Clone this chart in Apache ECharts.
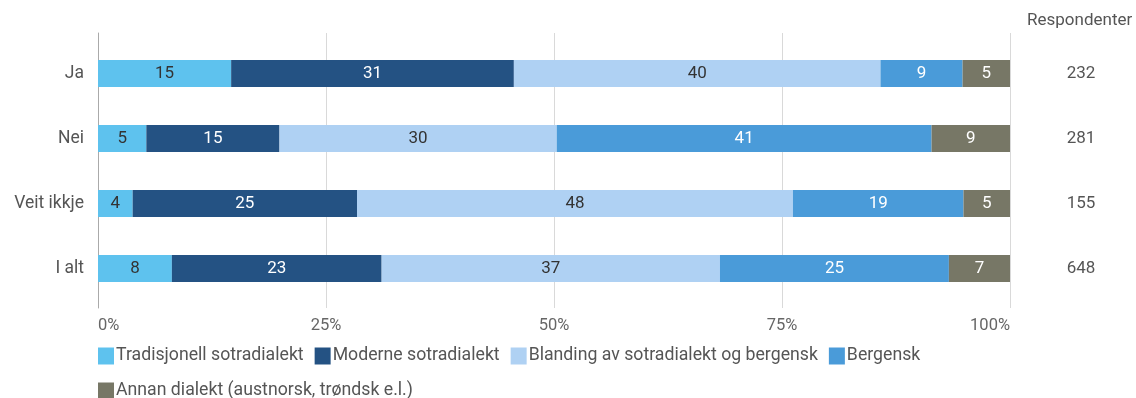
<!DOCTYPE html>
<html>
<head>
<meta charset="utf-8">
<script src="https://cdn.jsdelivr.net/npm/echarts@6/dist/echarts.min.js"></script>
<style>
  html, body { margin: 0; padding: 0; background: #fff; }
  #chart { width: 1136px; height: 398px; }
</style>
</head>
<body>
<div id="chart"></div>
<script>
// categories and respondent counts
const categories = ['Ja', 'Nei', 'Veit ikkje', 'I alt'];
const respondents = [232, 281, 155, 648];
const seriesNames = [
    'Tradisjonell sotradialekt',
    'Moderne sotradialekt',
    'Blanding av sotradialekt og bergensk',
    'Bergensk',
    'Annan dialekt (austnorsk, trøndsk e.l.)'
];

// percentages per category (Ja, Nei, Veit ikkje, I alt)
const tradisjonell = [14.6, 5.3, 3.8, 8.1];
const moderne = [31.0, 14.6, 24.6, 23.0];
const blanding = [40.2, 30.4, 47.8, 37.1];
const bergensk = [9.0, 41.1, 18.7, 25.1];
const annan = [5.2, 8.6, 5.1, 6.7];

const xTicks = [0, 25, 50, 75, 100];

const colors = ['#5ec2ee', '#245283', '#afd1f3', '#4a9bd9', '#777766'];
const labelColors = ['#333', '#fff', '#333', '#fff', '#fff'];
const values = [tradisjonell, moderne, blanding, bergensk, annan];

const chart = echarts.init(document.getElementById('chart'));

const option = {
    textStyle: { fontFamily: 'Roboto' },
    animation: false,
    title: {
        text: 'Respondenter',
        left: 1027,
        top: 12,
        padding: 0,
        textStyle: { fontSize: 17, fontWeight: 'normal', color: '#555', fontFamily: 'Roboto' }
    },
    legend: {
        left: 98,
        top: 344,
        padding: 0,
        width: 900,
        itemWidth: 16,
        itemHeight: 17,
        itemGap: 11,
        icon: 'rect',
        data: seriesNames,
        textStyle: { fontSize: 17.7, color: '#555', padding: [0, 0, 0, -3], lineHeight: 24 }
    },
    grid: [
        { left: 98, right: 126, top: 41, height: 260 },  // bars
        { left: 98, right: 126, top: 33, height: 275 }   // gridlines + x labels
    ],
    xAxis: [
        { gridIndex: 0, type: 'value', min: 0, max: 100, show: false },
        {
            gridIndex: 1,
            type: 'value',
            min: xTicks[0],
            max: xTicks[xTicks.length - 1],
            interval: 25,
            axisLine: { show: false },
            axisTick: { show: false },
            splitLine: { lineStyle: { color: '#d9d9d9' } },
            axisLabel: {
                formatter: '{value}%',
                color: '#666',
                fontSize: 16.5,
                margin: 9,
                alignMinLabel: 'left',
                alignMaxLabel: 'right'
            }
        }
    ],
    yAxis: [
        {
            gridIndex: 0,
            type: 'category',
            inverse: true,
            data: categories,
            axisLine: { show: false },
            axisTick: { show: false },
            axisLabel: { color: '#555', fontSize: 17.5, margin: 14 }
        },
        {
            gridIndex: 0,
            type: 'category',
            inverse: true,
            position: 'right',
            data: respondents,
            axisLine: { show: false },
            axisTick: { show: false },
            axisLabel: { color: '#555', fontSize: 17, margin: 71, align: 'center' }
        },
        {
            gridIndex: 1,
            type: 'category',
            data: [''],
            axisLine: { show: true, lineStyle: { color: '#aaa' } },
            axisTick: { show: false },
            axisLabel: { show: false }
        }
    ],
    series: seriesNames.map((name, i) => ({
        name: name,
        type: 'bar',
        stack: 'total',
        xAxisIndex: 0,
        yAxisIndex: 0,
        barWidth: 27,
        data: values[i],
        itemStyle: { color: colors[i] },
        label: {
            show: true,
            position: 'inside',
            color: labelColors[i],
            fontSize: 17,
            formatter: p => Math.round(p.value)
        }
    }))
};

chart.setOption(option);
</script>
</body>
</html>
